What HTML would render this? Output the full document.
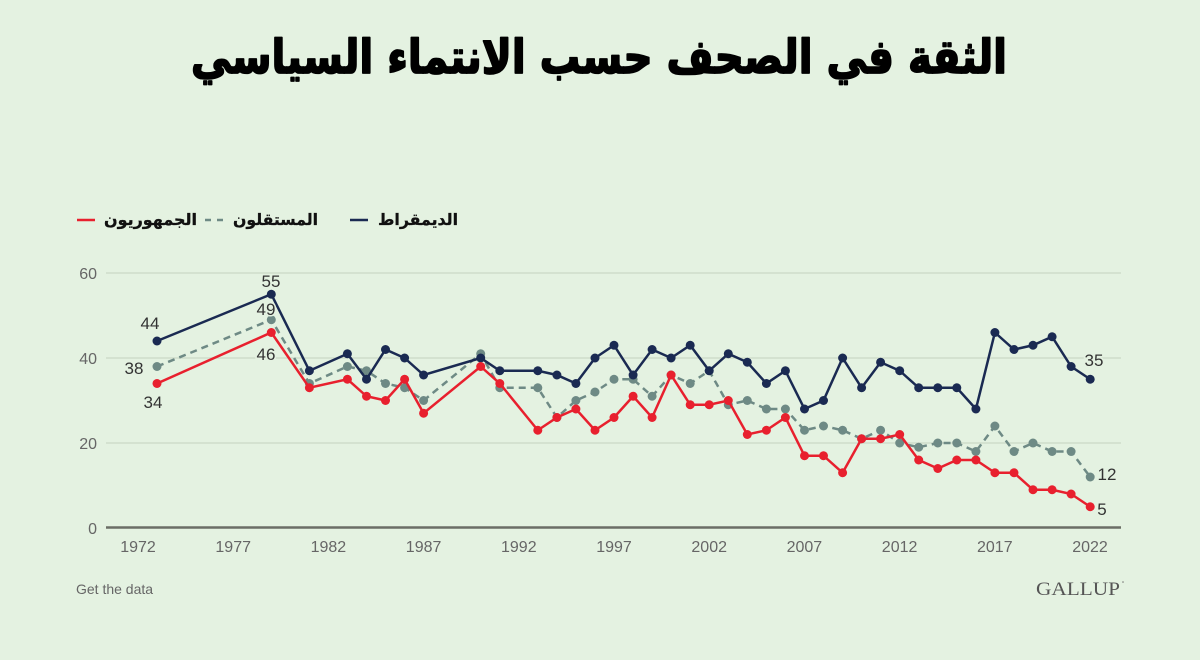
<!DOCTYPE html>
<html><head><meta charset="utf-8">
<style>
html,body{margin:0;padding:0;background:#e4f2e1;}
svg{display:block;}
</style></head>
<body>
<svg width="1200" height="660" viewBox="0 0 1200 660" xmlns="http://www.w3.org/2000/svg">
<rect width="1200" height="660" fill="#e4f2e1"/>
<text x="599" y="73" text-anchor="middle" font-family="DejaVu Sans, sans-serif" font-weight="bold" font-size="47" fill="#000" stroke="#000" stroke-width="1.8" stroke-linejoin="round" textLength="816" lengthAdjust="spacingAndGlyphs">الثقة في الصحف حسب الانتماء السياسي</text>

<!-- legend -->
<line x1="77" y1="220" x2="95" y2="220" stroke="#e8202e" stroke-width="2.5"/>
<text x="150.5" y="225" text-anchor="middle" font-family="DejaVu Sans, sans-serif" font-weight="bold" font-size="16" fill="#111" stroke="#111" stroke-width="0.3" textLength="93" lengthAdjust="spacingAndGlyphs">الجمهوريون</text>
<line x1="205" y1="220" x2="223" y2="220" stroke="#6e8a85" stroke-width="2.5" stroke-dasharray="6,6"/>
<text x="275.5" y="225" text-anchor="middle" font-family="DejaVu Sans, sans-serif" font-weight="bold" font-size="16" fill="#111" stroke="#111" stroke-width="0.3" textLength="85" lengthAdjust="spacingAndGlyphs">المستقلون</text>
<line x1="350" y1="220" x2="368" y2="220" stroke="#1a2a52" stroke-width="2.5"/>
<text x="418" y="225" text-anchor="middle" font-family="DejaVu Sans, sans-serif" font-weight="bold" font-size="16" fill="#111" stroke="#111" stroke-width="0.3" textLength="80" lengthAdjust="spacingAndGlyphs">الديمقراط</text>

<!-- grid -->
<g stroke="#cfdccb" stroke-width="1.5">
<line x1="106" y1="273" x2="1121" y2="273"/>
<line x1="106" y1="358" x2="1121" y2="358"/>
<line x1="106" y1="443" x2="1121" y2="443"/>
</g>
<line x1="106" y1="527.5" x2="1121" y2="527.5" stroke="#6b6e66" stroke-width="2.5"/>

<g font-family="Liberation Sans, sans-serif" font-size="16" fill="#666">
<text x="97" y="279" text-anchor="end">60</text>
<text x="97" y="364" text-anchor="end">40</text>
<text x="97" y="449" text-anchor="end">20</text>
<text x="97" y="534" text-anchor="end">0</text>
</g>
<g font-family="Liberation Sans, sans-serif" font-size="16" fill="#666" text-anchor="middle">
<text x="138" y="552">1972</text>
<text x="233.2" y="552">1977</text>
<text x="328.4" y="552">1982</text>
<text x="423.6" y="552">1987</text>
<text x="518.8" y="552">1992</text>
<text x="614" y="552">1997</text>
<text x="709.2" y="552">2002</text>
<text x="804.4" y="552">2007</text>
<text x="899.6" y="552">2012</text>
<text x="994.8" y="552">2017</text>
<text x="1090" y="552">2022</text>
</g>

<!-- Independents -->
<polyline fill="none" stroke="#6e8a85" stroke-width="2.5" stroke-dasharray="7,5" points="157,366.5 271.3,319.75 309.4,383.5 347.4,366.5 366.5,370.75 385.5,383.5 404.6,387.75 423.6,400.5 480.7,353.75 499.8,387.75 537.8,387.75 556.9,417.5 575.9,400.5 595,392 614,379.25 633.1,379.25 652.1,396.25 671.1,375 690.2,383.5 709.2,370.75 728.3,404.75 747.3,400.5 766.4,409 785.4,409 804.5,430.25 823.5,426 842.6,430.25 861.6,438.75 880.6,430.25 899.7,443 918.7,447.25 937.8,443 956.8,443 975.9,451.5 994.9,426 1014,451.5 1033,443 1052.1,451.5 1071.1,451.5 1090.2,477"/>
<g fill="#6e8a85">
<circle cx="157" cy="366.5" r="4.5"/><circle cx="271.3" cy="319.75" r="4.5"/><circle cx="309.4" cy="383.5" r="4.5"/><circle cx="347.4" cy="366.5" r="4.5"/><circle cx="366.5" cy="370.75" r="4.5"/><circle cx="385.5" cy="383.5" r="4.5"/><circle cx="404.6" cy="387.75" r="4.5"/><circle cx="423.6" cy="400.5" r="4.5"/><circle cx="480.7" cy="353.75" r="4.5"/><circle cx="499.8" cy="387.75" r="4.5"/><circle cx="537.8" cy="387.75" r="4.5"/><circle cx="556.9" cy="417.5" r="4.5"/><circle cx="575.9" cy="400.5" r="4.5"/><circle cx="595" cy="392" r="4.5"/><circle cx="614" cy="379.25" r="4.5"/><circle cx="633.1" cy="379.25" r="4.5"/><circle cx="652.1" cy="396.25" r="4.5"/><circle cx="671.1" cy="375" r="4.5"/><circle cx="690.2" cy="383.5" r="4.5"/><circle cx="709.2" cy="370.75" r="4.5"/><circle cx="728.3" cy="404.75" r="4.5"/><circle cx="747.3" cy="400.5" r="4.5"/><circle cx="766.4" cy="409" r="4.5"/><circle cx="785.4" cy="409" r="4.5"/><circle cx="804.5" cy="430.25" r="4.5"/><circle cx="823.5" cy="426" r="4.5"/><circle cx="842.6" cy="430.25" r="4.5"/><circle cx="861.6" cy="438.75" r="4.5"/><circle cx="880.6" cy="430.25" r="4.5"/><circle cx="899.7" cy="443" r="4.5"/><circle cx="918.7" cy="447.25" r="4.5"/><circle cx="937.8" cy="443" r="4.5"/><circle cx="956.8" cy="443" r="4.5"/><circle cx="975.9" cy="451.5" r="4.5"/><circle cx="994.9" cy="426" r="4.5"/><circle cx="1014" cy="451.5" r="4.5"/><circle cx="1033" cy="443" r="4.5"/><circle cx="1052.1" cy="451.5" r="4.5"/><circle cx="1071.1" cy="451.5" r="4.5"/><circle cx="1090.2" cy="477" r="4.5"/>
</g>

<!-- Democrats -->
<polyline fill="none" stroke="#1a2a52" stroke-width="2.5" points="157,341 271.3,294.25 309.4,370.75 347.4,353.75 366.5,379.25 385.5,349.5 404.6,358 423.6,375 480.7,358 499.8,370.75 537.8,370.75 556.9,375 575.9,383.5 595,358 614,345.25 633.1,375 652.1,349.5 671.1,358 690.2,345.25 709.2,370.75 728.3,353.75 747.3,362.25 766.4,383.5 785.4,370.75 804.5,409 823.5,400.5 842.6,358 861.6,387.75 880.6,362.25 899.7,370.75 918.7,387.75 937.8,387.75 956.8,387.75 975.9,409 994.9,332.5 1014,349.5 1033,345.25 1052.1,336.75 1071.1,366.5 1090.2,379.25"/>
<g fill="#1a2a52">
<circle cx="157" cy="341" r="4.5"/><circle cx="271.3" cy="294.25" r="4.5"/><circle cx="309.4" cy="370.75" r="4.5"/><circle cx="347.4" cy="353.75" r="4.5"/><circle cx="366.5" cy="379.25" r="4.5"/><circle cx="385.5" cy="349.5" r="4.5"/><circle cx="404.6" cy="358" r="4.5"/><circle cx="423.6" cy="375" r="4.5"/><circle cx="480.7" cy="358" r="4.5"/><circle cx="499.8" cy="370.75" r="4.5"/><circle cx="537.8" cy="370.75" r="4.5"/><circle cx="556.9" cy="375" r="4.5"/><circle cx="575.9" cy="383.5" r="4.5"/><circle cx="595" cy="358" r="4.5"/><circle cx="614" cy="345.25" r="4.5"/><circle cx="633.1" cy="375" r="4.5"/><circle cx="652.1" cy="349.5" r="4.5"/><circle cx="671.1" cy="358" r="4.5"/><circle cx="690.2" cy="345.25" r="4.5"/><circle cx="709.2" cy="370.75" r="4.5"/><circle cx="728.3" cy="353.75" r="4.5"/><circle cx="747.3" cy="362.25" r="4.5"/><circle cx="766.4" cy="383.5" r="4.5"/><circle cx="785.4" cy="370.75" r="4.5"/><circle cx="804.5" cy="409" r="4.5"/><circle cx="823.5" cy="400.5" r="4.5"/><circle cx="842.6" cy="358" r="4.5"/><circle cx="861.6" cy="387.75" r="4.5"/><circle cx="880.6" cy="362.25" r="4.5"/><circle cx="899.7" cy="370.75" r="4.5"/><circle cx="918.7" cy="387.75" r="4.5"/><circle cx="937.8" cy="387.75" r="4.5"/><circle cx="956.8" cy="387.75" r="4.5"/><circle cx="975.9" cy="409" r="4.5"/><circle cx="994.9" cy="332.5" r="4.5"/><circle cx="1014" cy="349.5" r="4.5"/><circle cx="1033" cy="345.25" r="4.5"/><circle cx="1052.1" cy="336.75" r="4.5"/><circle cx="1071.1" cy="366.5" r="4.5"/><circle cx="1090.2" cy="379.25" r="4.5"/>
</g>

<!-- Republicans -->
<polyline fill="none" stroke="#e8202e" stroke-width="2.5" points="157,383.5 271.3,332.5 309.4,387.75 347.4,379.25 366.5,396.25 385.5,400.5 404.6,379.25 423.6,413.25 480.7,366.5 499.8,383.5 537.8,430.25 556.9,417.5 575.9,409 595,430.25 614,417.5 633.1,396.25 652.1,417.5 671.1,375 690.2,404.75 709.2,404.75 728.3,400.5 747.3,434.5 766.4,430.25 785.4,417.5 804.5,455.75 823.5,455.75 842.6,472.75 861.6,438.75 880.6,438.75 899.7,434.5 918.7,460 937.8,468.5 956.8,460 975.9,460 994.9,472.75 1014,472.75 1033,489.75 1052.1,489.75 1071.1,494 1090.2,506.75"/>
<g fill="#e8202e">
<circle cx="157" cy="383.5" r="4.5"/><circle cx="271.3" cy="332.5" r="4.5"/><circle cx="309.4" cy="387.75" r="4.5"/><circle cx="347.4" cy="379.25" r="4.5"/><circle cx="366.5" cy="396.25" r="4.5"/><circle cx="385.5" cy="400.5" r="4.5"/><circle cx="404.6" cy="379.25" r="4.5"/><circle cx="423.6" cy="413.25" r="4.5"/><circle cx="480.7" cy="366.5" r="4.5"/><circle cx="499.8" cy="383.5" r="4.5"/><circle cx="537.8" cy="430.25" r="4.5"/><circle cx="556.9" cy="417.5" r="4.5"/><circle cx="575.9" cy="409" r="4.5"/><circle cx="595" cy="430.25" r="4.5"/><circle cx="614" cy="417.5" r="4.5"/><circle cx="633.1" cy="396.25" r="4.5"/><circle cx="652.1" cy="417.5" r="4.5"/><circle cx="671.1" cy="375" r="4.5"/><circle cx="690.2" cy="404.75" r="4.5"/><circle cx="709.2" cy="404.75" r="4.5"/><circle cx="728.3" cy="400.5" r="4.5"/><circle cx="747.3" cy="434.5" r="4.5"/><circle cx="766.4" cy="430.25" r="4.5"/><circle cx="785.4" cy="417.5" r="4.5"/><circle cx="804.5" cy="455.75" r="4.5"/><circle cx="823.5" cy="455.75" r="4.5"/><circle cx="842.6" cy="472.75" r="4.5"/><circle cx="861.6" cy="438.75" r="4.5"/><circle cx="880.6" cy="438.75" r="4.5"/><circle cx="899.7" cy="434.5" r="4.5"/><circle cx="918.7" cy="460" r="4.5"/><circle cx="937.8" cy="468.5" r="4.5"/><circle cx="956.8" cy="460" r="4.5"/><circle cx="975.9" cy="460" r="4.5"/><circle cx="994.9" cy="472.75" r="4.5"/><circle cx="1014" cy="472.75" r="4.5"/><circle cx="1033" cy="489.75" r="4.5"/><circle cx="1052.1" cy="489.75" r="4.5"/><circle cx="1071.1" cy="494" r="4.5"/><circle cx="1090.2" cy="506.75" r="4.5"/>
</g>

<!-- data labels -->
<g font-family="Liberation Sans, sans-serif" font-size="17" fill="#333" text-anchor="middle" stroke="#e4f2e1" stroke-width="3" paint-order="stroke">
<text x="150" y="329">44</text>
<text x="271" y="287">55</text>
<text x="266" y="315">49</text>
<text x="266" y="360">46</text>
<text x="134" y="374">38</text>
<text x="153" y="408">34</text>
<text x="1094" y="366">35</text>
<text x="1107" y="480">12</text>
<text x="1102" y="515">5</text>
</g>

<text x="76" y="594" font-family="Liberation Sans, sans-serif" font-size="14" fill="#666">Get the data</text>
<text x="1120" y="595" text-anchor="end" font-family="Liberation Serif, serif" font-size="19" fill="#555" textLength="84" lengthAdjust="spacingAndGlyphs">GALLUP</text>
<circle cx="1123" cy="582" r="0.8" fill="#777"/>
</svg>
</body></html>
